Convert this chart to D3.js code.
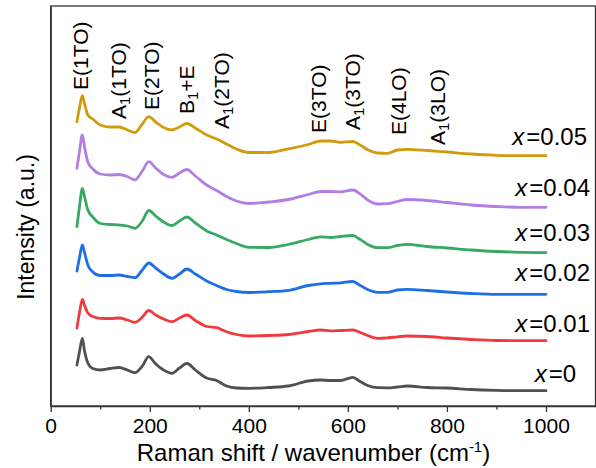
<!DOCTYPE html>
<html><head><meta charset="utf-8">
<script src="https://cdn.jsdelivr.net/npm/d3@7"></script>
<style>
body{margin:0;background:#fff}
svg{display:block}
text{font-family:"Liberation Sans", Arial, sans-serif; fill:#000}
</style>
</head><body>
<svg id="c" width="596" height="468"></svg>
<script>
// ---- data ----
const wavenumber = [53,58,64,68,75,85,100,120,138,155,170,185,198,212,228,245,260,275,292,315,335,355,375,400,440,480,520,545,565,585,610,625,640,660,680,700,720,760,800,850,900,950,1000];
const sX0    = [41,54,67.5,56,43,37.5,36,37.5,38.5,36,33.3,40,49.3,42,36,32.7,38,42.5,36,28,25.5,20,18,17.7,18.5,20,25,26,25.5,25.5,28.7,24.5,20.5,18.3,18.2,19,20,18.5,18,16.5,15.7,15.3,15.3];
const sX001  = [78,93,106.5,101,93,89.5,87.7,87.5,88,86,83.7,89,95.5,91,87,84.3,88,91,85.5,79.5,78.3,74.3,71.5,70,70.5,71.5,74.5,76,75.2,75.5,76,73.5,70.5,67.7,68.2,69.2,70,69.5,68,66.5,65.5,65.3,65.3];
const sX002  = [135,148,161,154,141,134,130.5,130.5,131,129.5,128.3,136,143,138,132,127.7,132,137,132,125,120.5,116.5,114.5,113.5,114.3,115.7,120.5,122.2,122.7,123.2,124.5,120.5,116.5,113.7,113.7,116,116.7,115.5,114,112.5,111.7,111.7,111.7];
const sX003  = [179.3,199,217.7,210,196,189,182.5,181.5,181,180,177.7,185,195.5,190,184,180.5,185,189,183,175,171,166.5,162.5,158.7,158.5,161.5,166.5,169.2,168.5,169.5,170.5,166.5,161.5,158.3,158.3,160.5,161.7,159.5,158,156,154.5,153.7,153.3];
const sX004  = [237.7,254,271,260,244,237,232,231,231.5,229.5,226,235,244.3,238,231.5,228.7,233,236.5,230,221,215.5,209.5,205,202.5,204,206.5,211.5,214.5,214.5,214.2,216,212,206,202,202.3,204.5,206.5,205.5,203.5,201,199.5,198.7,198.7];
const sX005  = [284.3,298,310.3,303,291,287,281,279,279,276,273.3,282,289.3,284,278.5,276,279,282.7,278,271,267,262,257,253.5,253.5,257.2,261.5,265,265,263.7,264.5,261,256.2,253,252.7,256,256.7,255.5,254,252,250.7,250.3,250.3];
const seriesValues = [sX0, sX001, sX002, sX003, sX004, sX005];
const seriesNames = ["0","0.01","0.02","0.03","0.04","0.05"];
const xTicks = [0,200,400,600,800,1000];
const xMinorTicks = [100,300,500,700,900];
const peakNames = [["E(1TO)"],["A","1","(1TO)"],["E(2TO)"],["B","1","+E"],["A","1","(2TO)"],["E(3TO)"],["A","1","(3TO)"],["E(4LO)"],["A","1","(3LO)"]];
const peakPositions = [64,140,206,277,347,544,612,705,785];

// ---- style / layout ----
const colors = ["#505050","#f03a3d","#1c6fe5","#37a963","#b47de4","#d29b0e"];
const labelBaselines = [381.5,331.5,281,241,196,145];
const labelRight = [576,590,590,590,590,587];
const peakLabelBottom = [90,119,110,114,129,133,130,135,145];

const W=596,H=468;
const m={l:50.7,r:0.5,t:6,b:62};
const svg=d3.select("#c");
const x=d3.scaleLinear().domain([0,1100]).range([m.l,W-m.r]);
const y=d3.scaleLinear().domain([0,400]).range([H-m.b,m.t]);

// frame
svg.append("rect").attr("x",x(0)).attr("y",y(400)).attr("width",x(1100)-x(0)).attr("height",y(0)-y(400))
  .attr("fill","none").attr("stroke","#333").attr("stroke-width",1.3);

// curves
const line=d3.line().x((d,i)=>x(wavenumber[i])).y(d=>y(d)).curve(d3.curveMonotoneX);
seriesValues.forEach((s,k)=>{
  svg.append("path").attr("d",line(s)).attr("fill","none").attr("stroke",colors[k])
    .attr("stroke-width",2.8).attr("stroke-linejoin","round").attr("stroke-linecap","round");
});

// axes
const gx=svg.append("g").attr("transform",`translate(0,${y(0)})`)
  .call(d3.axisBottom(x).tickValues(xTicks).tickSize(6).tickSizeOuter(0).tickPadding(6).tickFormat(d3.format("d")));
gx.select(".domain").attr("stroke","#333").attr("stroke-width",1.3);
gx.selectAll(".tick line").attr("stroke","#333").attr("stroke-width",1.3);
gx.selectAll(".tick text").attr("font-size",21).attr("font-family","Liberation Sans, Arial, sans-serif").attr("fill","#000");
const gm=svg.append("g").attr("transform",`translate(0,${y(0)})`)
  .call(d3.axisBottom(x).tickValues(xMinorTicks).tickSize(3.5).tickSizeOuter(0).tickFormat(""));
gm.select(".domain").remove();
gm.selectAll(".tick line").attr("stroke","#333").attr("stroke-width",1.3);
const gy=svg.append("g").attr("transform",`translate(${x(0)},0)`)
  .call(d3.axisLeft(y).tickValues([]).tickSizeOuter(0));
gy.select(".domain").attr("stroke","#333").attr("stroke-width",1.3);

// axis titles
const xt=svg.append("text").attr("x",313.5).attr("y",461).attr("text-anchor","middle").attr("font-size",24);
xt.append("tspan").text("Raman shift / wavenumber (cm");
xt.append("tspan").attr("font-size",15).attr("dy",-9).text("-1");
xt.append("tspan").attr("dy",9).text(")");
svg.append("text").attr("transform",`translate(34,227) rotate(-90)`).attr("text-anchor","middle")
  .attr("font-size",23).text("Intensity (a.u.)");

// series labels
seriesNames.forEach((n,k)=>{
  const t=svg.append("text").attr("x",labelRight[k]).attr("y",labelBaselines[k]).attr("text-anchor","end").attr("font-size",24);
  t.append("tspan").attr("font-style","italic").text("x");
  t.append("tspan").attr("dx",2).text("="+n);
});

// peak labels
peakNames.forEach((parts,k)=>{
  const t=svg.append("text").attr("transform",`translate(${x(peakPositions[k])+6},${peakLabelBottom[k]}) rotate(-90)`)
    .attr("font-size",21);
  if(parts.length===1){ t.text(parts[0]); }
  else{
    t.append("tspan").text(parts[0]);
    t.append("tspan").attr("font-size",15).attr("dy",4).text(parts[1]);
    t.append("tspan").attr("dy",-4).text(parts[2]);
  }
});
</script>
</body></html>
